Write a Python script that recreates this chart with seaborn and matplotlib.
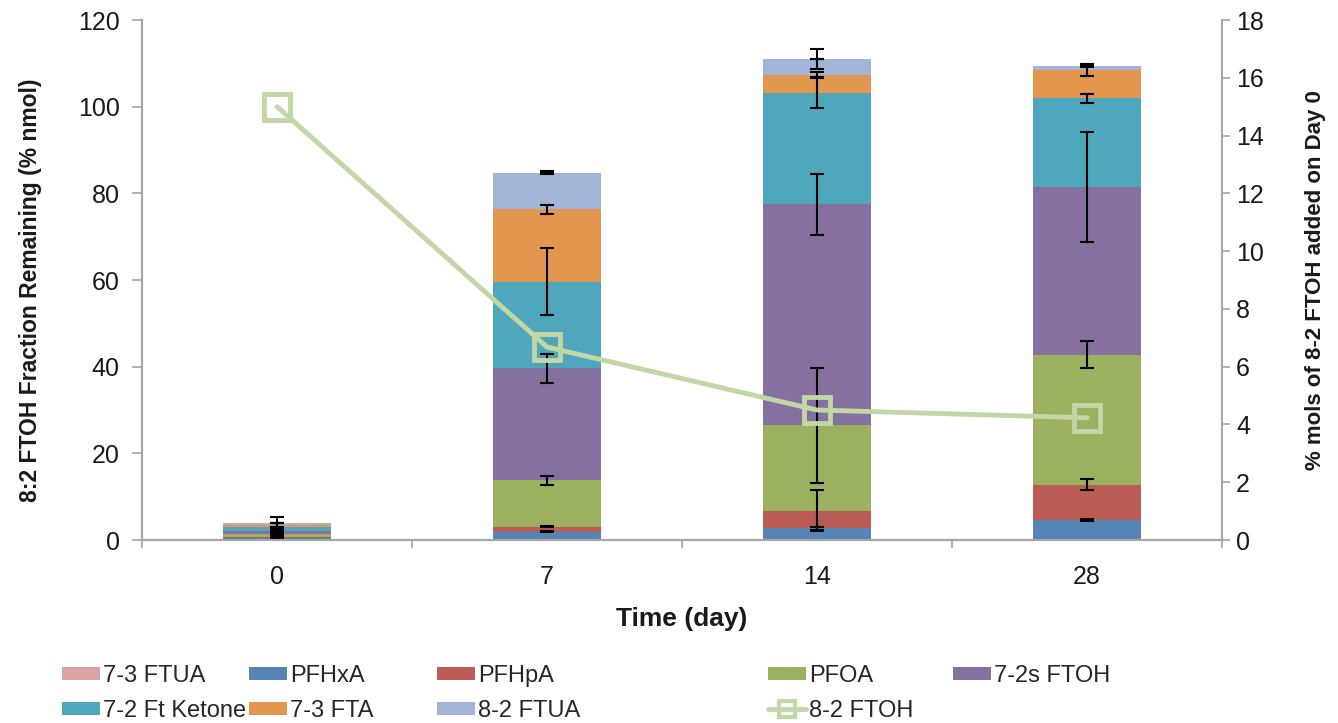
import numpy as np
import matplotlib.pyplot as plt
from matplotlib.lines import Line2D
from matplotlib.patches import Patch
import seaborn as sns

days = ['0', '7', '14', '28']

# stacked layers, bottom to top
layers = ['PFHxA', 'PFHpA', 'PFOA', '7-2s FTOH', '7-2 Ft Ketone', '7-3 FTA', '8-2 FTUA', '7-3 FTUA']
pfhxa = [0.4, 1.9, 2.7, 4.6]
pfhpa = [0.3, 1.2, 4.1, 8.2]
pfoa = [0.7, 10.7, 19.7, 30.0]
ftoh_72s = [0.6, 25.8, 51.0, 38.7]
ketone = [0.9, 20.0, 25.7, 20.4]
fta_73 = [0.5, 16.7, 4.1, 6.6]
ftua_82 = [0.3, 8.5, 3.7, 0.9]
ftua_73 = [0.2, 0.0, 0.0, 0.0]

pfhxa_err = [0.3, 0.1, 0.3, 0.3]
pfhpa_err = [0.3, 0.2, 4.7, 1.35]
pfoa_err = [0.4, 1.0, 13.3, 3.1]
ftoh_72s_err = [0.5, 3.4, 7.0, 12.7]
ketone_err = [1.0, 7.7, 3.6, 1.0]
fta_73_err = [0.5, 1.0, 0.6, 1.4]
ftua_82_err = [1.6, 0.3, 2.4, 0.3]
ftua_73_err = [0.0, 0.0, 0.0, 0.0]

# 8-2 FTOH on the right axis
ftoh_82 = [15.0, 6.68, 4.5, 4.23]

colors = {
    'PFHxA': '#5584B5', 'PFHpA': '#BA5B55', 'PFOA': '#9CB15F',
    '7-2s FTOH': '#8570A0', '7-2 Ft Ketone': '#4FA7BE', '7-3 FTA': '#E3964E',
    '8-2 FTUA': '#A2B5D9', '7-3 FTUA': '#D9A3A2',
}
line_color = '#C3D6A5'

sns.set_style('white')
plt.rcParams['font.family'] = ['Liberation Sans', 'DejaVu Sans']

values = [pfhxa, pfhpa, pfoa, ftoh_72s, ketone, fta_73, ftua_82, ftua_73]
errors = [pfhxa_err, pfhpa_err, pfoa_err, ftoh_72s_err, ketone_err, fta_73_err, ftua_82_err, ftua_73_err]

fig = plt.figure(figsize=(13.38, 7.23), dpi=100)
ax = fig.add_axes([142 / 1338, 1 - 540 / 723, 1080 / 1338, 520 / 723])
x = np.arange(len(days))

bottom = np.zeros(len(days))
for name, vals in zip(layers, values):
    ax.bar(x, vals, 0.4, bottom=bottom, color=colors[name], linewidth=0)
    bottom += np.array(vals)

bottom = np.zeros(len(days))
for vals, err in zip(values, errors):
    top = bottom + np.array(vals)
    ax.errorbar(x, top, yerr=err, fmt='none', ecolor='black', elinewidth=1.5,
                capsize=5, capthick=1.5)
    bottom = top

ax.set_xlim(-0.5, 3.5)
ax.set_ylim(0, 120)
ax.set_yticks(range(0, 121, 20))
ax.set_xticks(x)
ax.set_xticklabels(days)
ax.set_xticks(np.arange(-0.5, 4, 1), minor=True)
ax.tick_params(axis='x', which='major', length=0, pad=18, labelsize=18, labelcolor='#1a1a1a')
ax.tick_params(axis='x', which='minor', length=6, width=1.2, color='#A6A6A6', direction='out', bottom=True)
ax.tick_params(axis='y', length=7, width=1.2, color='#A6A6A6', direction='out', left=True,
               pad=9, labelsize=18, labelcolor='#1a1a1a')

ax2 = ax.twinx()
sns.lineplot(x=x, y=ftoh_82, ax=ax2, color=line_color, linewidth=3.5, marker='s',
             markersize=19, markerfacecolor='none', markeredgecolor=line_color,
             markeredgewidth=3.5)
ax2.set_ylim(0, 18)
ax2.set_yticks(range(0, 19, 2))
ax2.tick_params(axis='y', length=6, width=1.2, color='#A6A6A6', direction='out', right=True,
                pad=4, labelsize=18, labelcolor='#1a1a1a')

for a in (ax, ax2):
    a.spines['top'].set_visible(False)
    for side in ['left', 'right', 'bottom']:
        a.spines[side].set_color('#A6A6A6')
        a.spines[side].set_linewidth(1.5)
ax.spines['right'].set_visible(False)

ax.set_ylabel('8:2 FTOH Fraction Remaining (% nmol)', fontsize=16.5, fontweight='bold', color='#1a1a1a')
ax.yaxis.set_label_coords(-0.093, 0.48)
ax2.set_ylabel('% mols of 8-2 FTOH added on Day 0', fontsize=16, fontweight='bold', color='#1a1a1a')
ax2.yaxis.set_label_coords(1.077, 0.5)
ax.set_xlabel('Time (day)', fontsize=19, fontweight='bold', color='#1a1a1a')
ax.xaxis.set_label_coords(0.5, -0.128)

handles = {name: Patch(facecolor=colors[name], edgecolor='none') for name in layers}
handles['8-2 FTOH'] = Line2D([], [], color=line_color, linewidth=3.5, marker='s', markersize=11,
                             markerfacecolor='none', markeredgecolor=line_color, markeredgewidth=3)
columns = [['7-3 FTUA', '7-2 Ft Ketone'], ['PFHxA', '7-3 FTA'], ['PFHpA', '8-2 FTUA'],
           ['PFOA', '8-2 FTOH'], ['7-2s FTOH']]
col_x = [62, 249, 437, 768, 953]
for names, cx in zip(columns, col_x):
    fig.legend([handles[n] for n in names], names, loc='upper left',
               bbox_to_anchor=(cx / 1338, 1 - 665 / 723), frameon=False, fontsize=17,
               borderpad=0, borderaxespad=0, handlelength=1.6, handleheight=0.5,
               handletextpad=0.15, labelspacing=0.55)

fig.savefig('out.png', dpi=100)
